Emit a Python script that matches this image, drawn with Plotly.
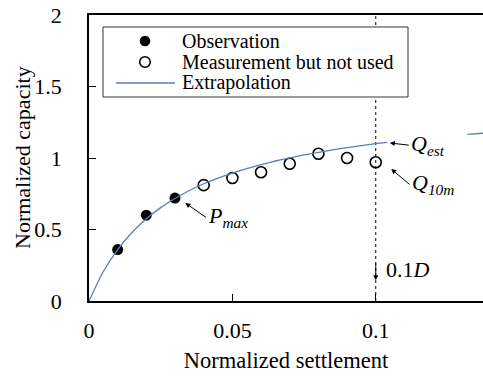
import plotly.graph_objects as go

# ---- data ----
s_obs = [0.01, 0.02, 0.03]
q_obs = [0.36, 0.60, 0.72]

s_unused = [0.04, 0.05, 0.06, 0.07, 0.08, 0.09, 0.10]
q_unused = [0.81, 0.86, 0.90, 0.96, 1.03, 1.00, 0.97]

s_fit = [0, 0.005, 0.01, 0.015, 0.02, 0.025, 0.03, 0.035, 0.04, 0.045, 0.05,
         0.055, 0.06, 0.065, 0.07, 0.075, 0.08, 0.085, 0.09, 0.095, 0.10, 0.104,
         None, 0.132, 0.1374]
q_fit = [0, 0.206, 0.360, 0.479, 0.575, 0.653, 0.717, 0.773, 0.820, 0.860, 0.895,
         0.926, 0.954, 0.979, 1.001, 1.022, 1.040, 1.057, 1.073, 1.087, 1.100, 1.110,
         None, 1.165, 1.173]

x_ticks = [0, 0.05, 0.1]
x_ticklabels = ["0", "0.05", "0.1"]
y_ticks = [0, 0.5, 1, 1.5, 2]
y_ticklabels = ["0", "0.5", "1", "1.5", "2"]

legend_labels = ["Observation", "Measurement but not used", "Extrapolation"]

FONT = "'Liberation Serif', 'Times New Roman', Times, serif"
LINE_COLOR = "#5a7dbd"

fig = go.Figure()
fig.add_trace(go.Scatter(
    x=s_obs, y=q_obs, mode="markers", name=legend_labels[0], showlegend=False,
    marker=dict(symbol="circle", size=11, color="black", line=dict(width=0)),
))
fig.add_trace(go.Scatter(
    x=s_unused, y=q_unused, mode="markers", name=legend_labels[1], showlegend=False,
    marker=dict(symbol="circle-open", size=11, color="black", line=dict(width=1.6)),
))
fig.add_trace(go.Scatter(
    x=s_fit, y=q_fit, mode="lines", name=legend_labels[2], connectgaps=False, showlegend=False,
    line=dict(color=LINE_COLOR, width=1.3, shape="spline", smoothing=0.6),
))

# vertical dashed line at 0.1D
fig.add_shape(type="line", x0=0.1, x1=0.1, y0=0, y1=2, xref="x", yref="y",
              line=dict(color="black", width=1, dash="3px,3px"), layer="below")

# ---- hand-built legend (tight row spacing as in the reference) ----
PL, PT, PW, PH = 89, 15, 394, 286   # plot area in pixels


def px(x):
    return (x - PL) / PW


def py(y):
    return 1 - (y - PT) / PH


fig.add_shape(type="rect", xref="paper", yref="paper",
              x0=px(103), x1=px(408), y0=py(97), y1=py(27),
              line=dict(color="#333333", width=1), fillcolor="white", layer="above")
rows = [41, 62, 83]
r = 5.3
fig.add_shape(type="circle", xref="paper", yref="paper",
              x0=px(145 - r), x1=px(145 + r), y0=py(rows[0] + r), y1=py(rows[0] - r),
              line=dict(color="black", width=0), fillcolor="black", layer="above")
fig.add_shape(type="circle", xref="paper", yref="paper",
              x0=px(145 - r), x1=px(145 + r), y0=py(rows[1] + r), y1=py(rows[1] - r),
              line=dict(color="black", width=1.6), fillcolor="white", layer="above")
fig.add_shape(type="line", xref="paper", yref="paper",
              x0=px(116), x1=px(175), y0=py(rows[2]), y1=py(rows[2]),
              line=dict(color=LINE_COLOR, width=1.3), layer="above")
for lab, ry in zip(legend_labels, rows):
    fig.add_annotation(xref="paper", yref="paper", x=px(180), y=py(ry), text=lab,
                       showarrow=False, xanchor="left", yanchor="middle",
                       font=dict(family=FONT, size=20, color="black"))

# y-axis title placed as a rotated annotation
fig.add_annotation(xref="paper", yref="paper", x=px(22), y=py(158),
                   text="Normalized capacity", textangle=-90, showarrow=False,
                   xanchor="center", yanchor="middle",
                   font=dict(family=FONT, size=22, color="black"))

ann_font = dict(family=FONT, size=22, color="black")
arrow_kw = dict(showarrow=True, arrowhead=2, arrowsize=1, arrowwidth=1,
                arrowcolor="black", axref="x", ayref="y",
                xanchor="left", yanchor="middle", font=ann_font)
# P_max
fig.add_annotation(x=0.0336, y=0.685, ax=0.0408, ay=0.585,
                   text="<i>P</i><sub><i>max</i></sub>", **arrow_kw)
# Q_est
fig.add_annotation(x=0.1049, y=1.105, ax=0.1115, ay=1.09,
                   text="<i>Q</i><sub><i>est</i></sub>", **arrow_kw)
# Q_10m
fig.add_annotation(x=0.1054, y=0.923, ax=0.1118, ay=0.815,
                   text="<i>Q</i><sub><i>10m</i></sub>", **arrow_kw)
# 0.1D
fig.add_annotation(x=0.1, y=0.145, ax=0.1, ay=0.275, text="", showarrow=True,
                   arrowhead=2, arrowsize=1, arrowwidth=1, arrowcolor="black",
                   axref="x", ayref="y")
fig.add_annotation(x=0.1030, y=0.22, text="0.1<i>D</i>",
                   showarrow=False, xanchor="left", yanchor="middle", font=ann_font)

fig.update_layout(
    width=483, height=377,
    margin=dict(l=PL, r=0, t=PT, b=377 - PT - PH),
    paper_bgcolor="white", plot_bgcolor="white",
    font=dict(family=FONT, size=22, color="black"),
    showlegend=False,
    xaxis=dict(
        range=[0, 0.1374], tickvals=x_ticks, ticktext=x_ticklabels,
        showline=True, linecolor="black", linewidth=1.5, mirror=True,
        ticks="inside", ticklen=7, tickcolor="black", tickwidth=1,
        showgrid=False, zeroline=False, ticklabelstandoff=9,
        title=dict(text="Normalized settlement", font=dict(family=FONT, size=22.5), standoff=10),
        tickfont=dict(family=FONT, size=22),
    ),
    yaxis=dict(
        range=[0, 2], tickvals=y_ticks, ticktext=y_ticklabels,
        showline=True, linecolor="black", linewidth=1.5, mirror=False,
        ticks="inside", ticklen=7, tickcolor="black", tickwidth=1,
        showgrid=False, zeroline=False, ticklabelstandoff=21,
        tickfont=dict(family=FONT, size=22),
    ),
)

fig.write_html("out.html")
